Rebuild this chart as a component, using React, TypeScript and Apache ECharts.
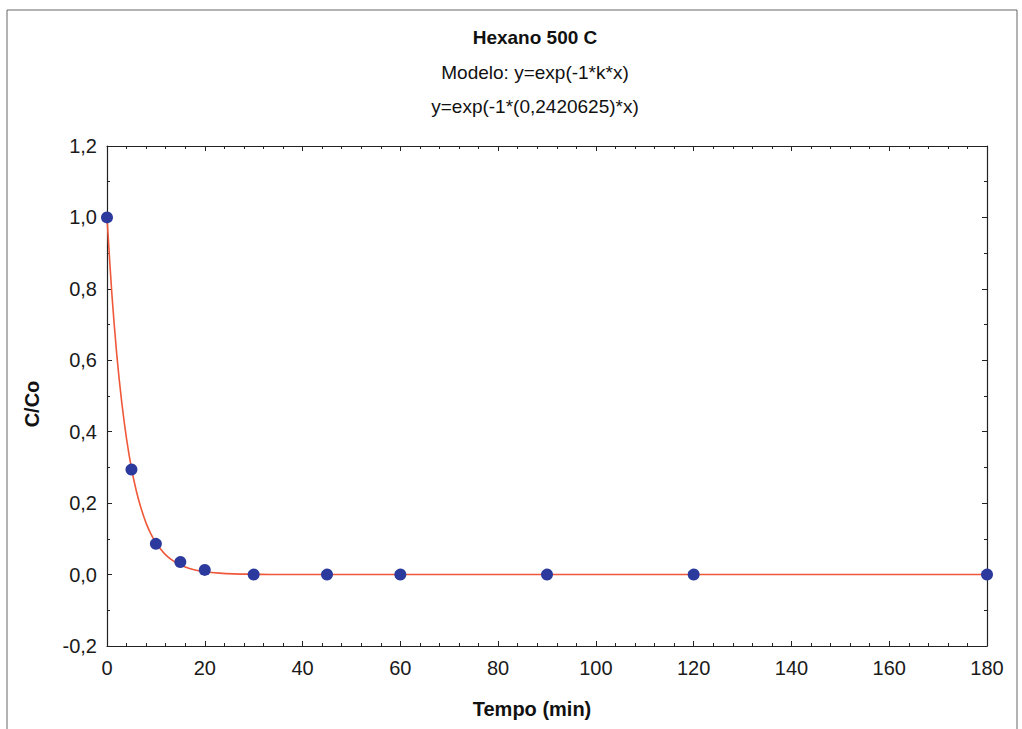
import React, { useEffect, useRef } from "react";
import * as echarts from "echarts";

const titleText = "Hexano 500 C";
const subtitle1 = "Modelo: y=exp(-1*k*x)";
const subtitle2 = "y=exp(-1*(0,2420625)*x)";
const xName = "Tempo (min)";
const yName = "C/Co";

const obsX = [0, 5, 10, 15, 20, 30, 45, 60, 90, 120, 180];
const obsY = [1.0, 0.294, 0.086, 0.035, 0.013, 0.0, 0.0, 0.0, 0.0, 0.0, 0.0];

const fitX = [0, 1, 2, 3, 4, 5, 6, 7, 8, 9, 10, 12, 14, 16, 18, 20, 23, 26, 30, 35, 40, 60, 90, 120, 180];
const fitY = [1.0, 0.785, 0.616, 0.484, 0.38, 0.298, 0.234, 0.184, 0.144, 0.113, 0.089, 0.055, 0.034, 0.021, 0.013, 0.008, 0.004, 0.002, 0.001, 0.0, 0.0, 0.0, 0.0, 0.0, 0.0];

const FONT = "Liberation Sans, Arial, sans-serif";

export default function App() {
  const ref = useRef<HTMLDivElement>(null);
  useEffect(() => {
    document.body.style.margin = "0";
    if (!ref.current) return;
    const chart = echarts.init(ref.current, undefined, { renderer: "svg" });
    const axisLine = { show: true, onZero: false, lineStyle: { color: "#222", width: 1.2 } };
    const tick = { show: true, inside: true, length: 5, lineStyle: { color: "#222" } };
    const minor = { show: true, length: 3, lineStyle: { color: "#222" } };
    const label = { color: "#1a1a1a", fontSize: 20, fontFamily: FONT };
    chart.setOption({
      animation: false,
      backgroundColor: "#fff",
      grid: { left: 107, right: 35, top: 146, bottom: 83, containLabel: false },
      graphic: [
        { type: "rect", shape: { x: 7, y: 10, width: 1010, height: 730 }, style: { fill: "none", stroke: "#666", lineWidth: 1 }, silent: true },
        { type: "text", x: 535, y: 37, style: { text: titleText, fontSize: 19, fontWeight: "bold", fill: "#111", fontFamily: FONT, align: "center", verticalAlign: "middle" } },
        { type: "text", x: 535, y: 72, style: { text: subtitle1, fontSize: 19, fill: "#111", fontFamily: FONT, align: "center", verticalAlign: "middle" } },
        { type: "text", x: 535, y: 106, style: { text: subtitle2, fontSize: 19, fill: "#111", fontFamily: FONT, align: "center", verticalAlign: "middle" } },
        { type: "text", x: 532, y: 709, style: { text: xName, fontSize: 20, fontWeight: "bold", fill: "#111", fontFamily: FONT, align: "center", verticalAlign: "middle" } },
        { type: "text", x: 32, y: 404, rotation: Math.PI / 2, style: { text: yName, fontSize: 20, fontWeight: "bold", fill: "#111", fontFamily: FONT, align: "center", verticalAlign: "middle" } },
      ],
      xAxis: [
        {
          type: "value", min: 0, max: 180, interval: 20,
          axisLine, axisTick: tick, minorTick: { ...minor, splitNumber: 5 },
          axisLabel: { ...label, margin: 12 }, splitLine: { show: false },
        },
        {
          type: "value", min: 0, max: 180, interval: 20, position: "top",
          axisLine, axisTick: tick, minorTick: { ...minor, splitNumber: 5 },
          axisLabel: { show: false }, splitLine: { show: false },
        },
      ],
      yAxis: [
        {
          type: "value", min: -0.2, max: 1.2, interval: 0.2,
          axisLine, axisTick: tick, minorTick: { ...minor, splitNumber: 2 },
          axisLabel: { ...label, margin: 10, formatter: (v: number) => v.toFixed(1).replace(".", ",") },
          splitLine: { show: false },
        },
        {
          type: "value", min: -0.2, max: 1.2, interval: 0.2, position: "right",
          axisLine, axisTick: tick, minorTick: { ...minor, splitNumber: 2 },
          axisLabel: { show: false }, splitLine: { show: false },
        },
      ],
      series: [
        {
          type: "line", data: fitX.map((x, i) => [x, fitY[i]]), smooth: 0.3,
          showSymbol: false, lineStyle: { color: "#f0583a", width: 1.6 }, z: 2,
        },
        {
          type: "scatter", data: obsX.map((x, i) => [x, obsY[i]]), symbolSize: 12,
          itemStyle: { color: "#2b3a9c", opacity: 1 }, z: 3,
        },
      ],
    });
    return () => chart.dispose();
  }, []);
  return <div ref={ref} style={{ width: 1022, height: 729 }} />;
}
